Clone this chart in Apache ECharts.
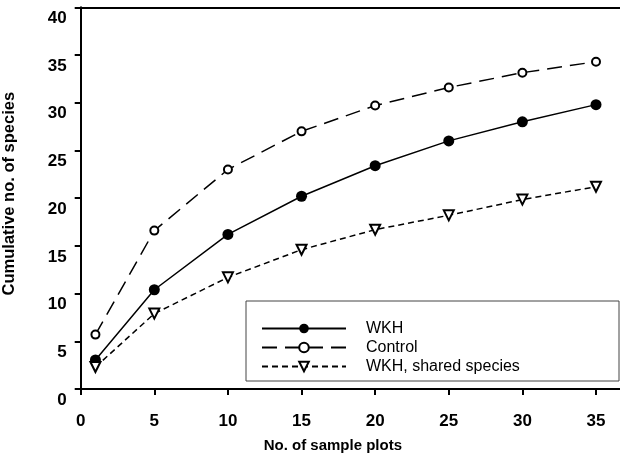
<!DOCTYPE html>
<html>
<head>
<meta charset="utf-8">
<script src="https://cdn.jsdelivr.net/npm/echarts@6/dist/echarts.min.js"></script>
<style>
html, body { margin: 0; padding: 0; background: #fff; }
#chart { width: 620px; height: 459px; }
</style>
</head>
<body>
<div id="chart"></div>
<script>
var plots = [1, 5, 10, 15, 20, 25, 30, 35];
var wkh = [3.05, 10.4, 16.2, 20.2, 23.4, 26.0, 28.0, 29.8];
var control = [5.7, 16.6, 23.0, 27.0, 29.7, 31.6, 33.15, 34.3];
var shared = [2.3, 7.9, 11.7, 14.6, 16.7, 18.2, 19.85, 21.2];

function pairs(ys) {
    return plots.map(function (x, i) { return [x, ys[i]]; });
}

var chart = echarts.init(document.getElementById("chart"));
var font = "Liberation Sans";
var option = {
    animation: false,
    backgroundColor: "#fff",
    grid: { left: 80.7, right: 0, top: 7.3, bottom: 70, outerBoundsMode: "none", containLabel: false },
    legend: {
        orient: "vertical",
        left: 261,
        top: 320,
        itemWidth: 84,
        itemHeight: 12,
        itemGap: 2,
        padding: 0,
        textStyle: { fontFamily: font, fontSize: 16, color: "#000", padding: [0, 0, 0, 15], lineHeight: 17 },
        data: ["WKH", "Control", "WKH, shared species"]
    },
    xAxis: [{
        type: "value",
        min: 0,
        max: 36.63,
        interval: 5,
        splitLine: { show: false },
        axisLine: { lineStyle: { color: "#000", width: 2 } },
        axisTick: { length: 6, lineStyle: { color: "#000", width: 2 } },
        axisLabel: {
            showMaxLabel: false, margin: 24, color: "#000",
            fontFamily: font, fontSize: 17, fontWeight: "bold"
        },
        name: "No. of sample plots",
        nameLocation: "middle",
        nameGap: 49,
        nameTextStyle: { fontFamily: font, fontSize: 15, fontWeight: "bold", color: "#000", padding: [0, 35, 0, 0] }
    }, {
        type: "value",
        position: "top",
        min: 0,
        max: 36.63,
        axisLine: { lineStyle: { color: "#000", width: 2 } },
        axisTick: { show: false },
        axisLabel: { show: false },
        splitLine: { show: false }
    }],
    yAxis: {
        type: "value",
        min: 0,
        max: 40,
        interval: 5,
        splitLine: { show: false },
        axisLine: { show: true, lineStyle: { color: "#000", width: 2 } },
        axisTick: { show: true, length: 6, lineStyle: { color: "#000", width: 2 } },
        axisLabel: {
            margin: 14, color: "#000", verticalAlign: "top", lineHeight: 22,
            fontFamily: font, fontSize: 17, fontWeight: "bold"
        },
        name: "Cumulative no. of species",
        nameLocation: "middle",
        nameGap: 63,
        nameTextStyle: { fontFamily: font, fontSize: 16.5, fontWeight: "bold", color: "#000", padding: [0, 0, 0, 9] }
    },
    graphic: [{
        type: "rect",
        shape: { x: 246, y: 301, width: 373, height: 80 },
        style: { fill: "#fff", stroke: "#444", lineWidth: 1 },
        z: -1
    }],
    series: [{
        name: "WKH",
        type: "line",
        data: pairs(wkh),
        symbol: "circle",
        symbolSize: 11,
        itemStyle: { color: "#000" },
        lineStyle: { color: "#000", width: 1.5, type: "solid" }
    }, {
        name: "Control",
        type: "line",
        data: pairs(control),
        symbol: "emptyCircle",
        symbolSize: 8,
        itemStyle: { color: "#000", borderWidth: 2.5 },
        lineStyle: { color: "#000", width: 1.5, type: [15, 8] }
    }, {
        name: "WKH, shared species",
        type: "line",
        data: pairs(shared),
        symbol: "emptyTriangle",
        symbolRotate: 180,
        symbolSize: 10,
        itemStyle: { color: "#000", borderWidth: 2.5 },
        lineStyle: { color: "#000", width: 1.5, type: [6, 4] }
    }]
};
chart.setOption(option);
</script>
</body>
</html>
